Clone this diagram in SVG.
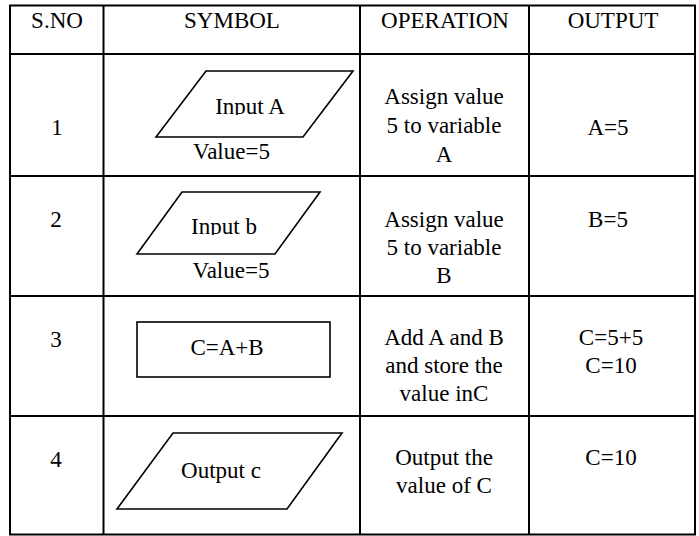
<svg xmlns="http://www.w3.org/2000/svg" width="699" height="536" viewBox="0 0 699 536">
  <defs>
    <style>
      .grid { stroke: #000; stroke-width: 2; fill: none; }
      .shape { stroke: #000; stroke-width: 1.6; fill: #fff; stroke-linejoin: miter; }
      text { font-family: "Liberation Serif", "Times New Roman", serif; font-size: 23px; fill: #000; text-anchor: middle; }
    </style>
    <!-- the symbol captions are cut off just under the baseline -->
    <clipPath id="clipInA"><rect x="150" y="80" width="200" height="35"/></clipPath>
    <clipPath id="clipInB"><rect x="150" y="200" width="200" height="35"/></clipPath>
  </defs>
  <rect width="699" height="536" fill="#fff"/>

  <!-- table grid -->
  <g id="grid" class="grid">
    <rect x="10" y="5.5" width="685" height="529"/>
    <line x1="103.5" y1="5.5" x2="103.5" y2="534.5"/>
    <line x1="360" y1="5.5" x2="360" y2="534.5"/>
    <line x1="529" y1="5.5" x2="529" y2="534.5"/>
    <line x1="10" y1="54" x2="695" y2="54"/>
    <line x1="10" y1="176" x2="695" y2="176"/>
    <line x1="10" y1="296" x2="695" y2="296"/>
    <line x1="10" y1="416" x2="695" y2="416"/>
  </g>

  <!-- header row -->
  <g id="header">
    <text x="57" y="28">S.NO</text>
    <text x="232" y="28">SYMBOL</text>
    <text x="445" y="28">OPERATION</text>
    <text x="613" y="28">OUTPUT</text>
  </g>

  <!-- row 1: input A -->
  <g id="row1">
    <text x="57" y="135">1</text>
    <polygon class="shape" points="206,71 353,71 303,137 156,137"/>
    <text x="250" y="114" clip-path="url(#clipInA)">Input A</text>
    <text x="231.5" y="159">Value=5</text>
    <text x="444" y="104">Assign value</text>
    <text x="444" y="133">5 to variable</text>
    <text x="444" y="162">A</text>
    <text x="608" y="135">A=5</text>
  </g>

  <!-- row 2: input b -->
  <g id="row2">
    <text x="56" y="227">2</text>
    <polygon class="shape" points="182,192 320,192 275,254 137,254"/>
    <text x="224" y="234" clip-path="url(#clipInB)">Input b</text>
    <text x="231" y="278">Value=5</text>
    <text x="444" y="227">Assign value</text>
    <text x="444" y="255">5 to variable</text>
    <text x="444" y="283">B</text>
    <text x="608" y="227">B=5</text>
  </g>

  <!-- row 3: process -->
  <g id="row3">
    <text x="56" y="347">3</text>
    <rect class="shape" x="137" y="322" width="193" height="55"/>
    <text x="227" y="355">C=A+B</text>
    <text x="444" y="345">Add A and B</text>
    <text x="444" y="373">and store the</text>
    <text x="444" y="401">value inC</text>
    <text x="611" y="345">C=5+5</text>
    <text x="611" y="373">C=10</text>
  </g>

  <!-- row 4: output c -->
  <g id="row4">
    <text x="56" y="467">4</text>
    <polygon class="shape" points="173,433 342,433 287,509 117,509"/>
    <text x="221" y="478">Output c</text>
    <text x="444" y="465">Output the</text>
    <text x="444" y="493">value of C</text>
    <text x="611" y="465">C=10</text>
  </g>
</svg>
